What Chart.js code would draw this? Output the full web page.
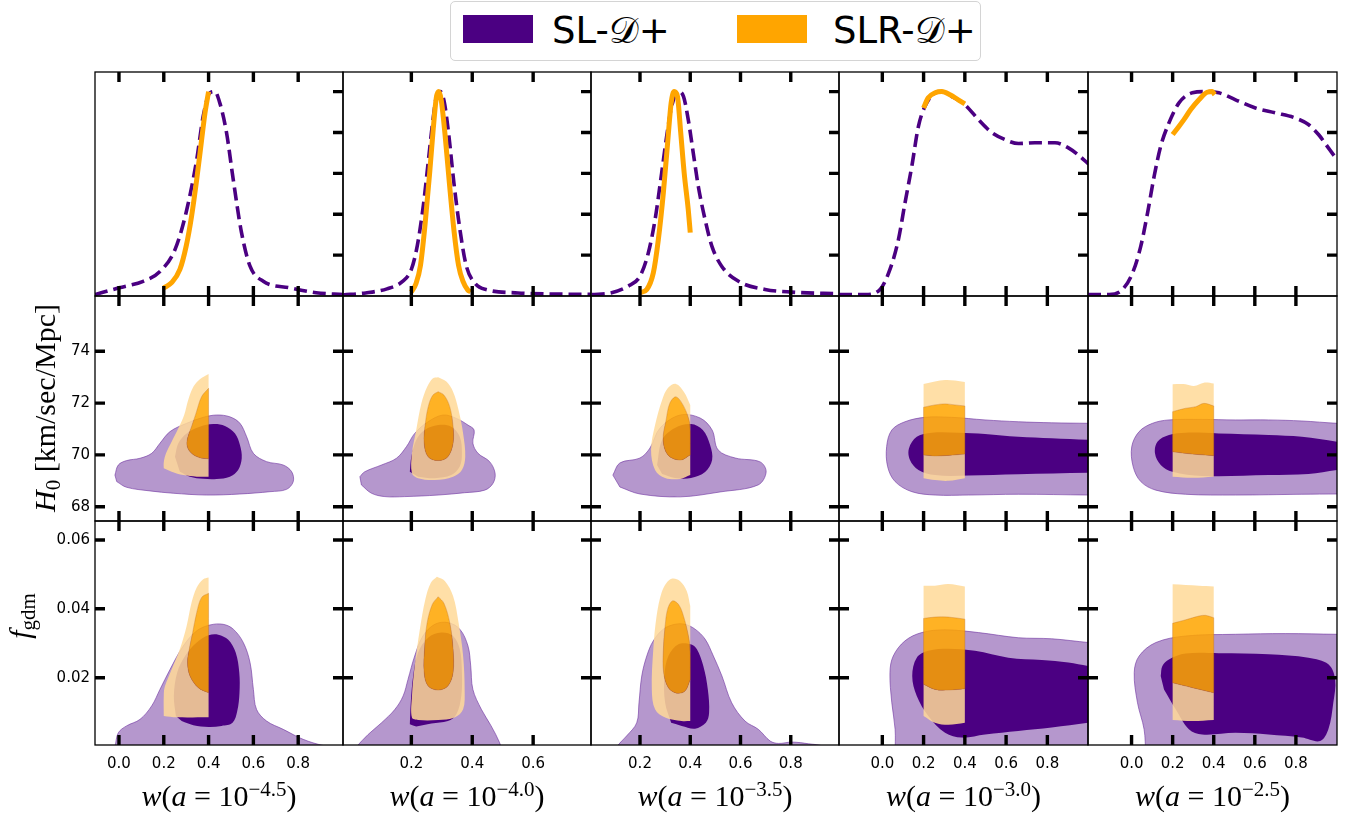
<!DOCTYPE html>
<html>
<head>
<meta charset="utf-8">
<title>w(a) posteriors</title>
<script src="https://cdn.jsdelivr.net/npm/chart.js@4.4.1/dist/chart.umd.min.js"></script>
<style>
  body { margin: 0; background: #fff; }
  #page { position: relative; width: 1356px; height: 823px; overflow: hidden; }
  canvas { position: absolute; }
  #legend { position: absolute; left: 450px; top: 1px; width: 531px; height: 60px; box-sizing: border-box;
            border: 1px solid #d4d4d4; border-radius: 5px; background: #fff;
            font-family: 'DejaVu Sans'; font-size: 37px; }
  .swatch { position: absolute; top: 13px; width: 70px; height: 28px; }
  .entry { position: absolute; top: 10px; line-height: 37px; white-space: nowrap; color: #000; }
  .title { position: absolute; font-family: 'Liberation Serif'; font-size: 30px; line-height: 30px;
           white-space: nowrap; text-align: center; color: #000; }
  .title sup { font-size: 0.7em; position: relative; top: -0.5em; vertical-align: baseline; }
  .title sub { font-size: 0.7em; position: relative; top: 0.25em; vertical-align: baseline; }
  .rot { transform: rotate(-90deg); }
</style>
</head>
<body>
<div id="page">
  <div id="legend">
    <div class="swatch" style="left:12px; background:#4b0082"></div>
    <div class="entry" style="left:101px">SL-<span>𝒟</span>+</div>
    <div class="swatch" style="left:286px; background:#ffa500"></div>
    <div class="entry" style="left:382px">SLR-<span>𝒟</span>+</div>
  </div>
</div>
<script>
// ---------- axes ----------
const wLabels = ['−4.5', '−4.0', '−3.5', '−3.0', '−2.5'];
const wRange = [[-0.107, 1.0], [-0.0245, 0.79], [0.005, 0.992], [-0.21, 0.997], [-0.212, 1.0]];
const wTicks = [[0, 0.2, 0.4, 0.6, 0.8], [0.2, 0.4, 0.6], [0.2, 0.4, 0.6, 0.8],
                [0, 0.2, 0.4, 0.6, 0.8], [0, 0.2, 0.4, 0.6, 0.8]];
const pdfTicks = [0.2, 0.4, 0.6, 0.8, 1.0];
const h0Ticks = [68, 70, 72, 74];
const fgTicks = [0.02, 0.04, 0.06];
const rowRange = [[0, 1.096], [67.448, 76.135], [0.00045, 0.0655]];

// ---------- 1D marginals of w (peak normalised) ----------
const sl1d_45 = [[-0.107,0.007],[0.0,0.04],[0.108,0.072],[0.183,0.12],[0.25,0.227],[0.30,0.41],[0.347,0.667],
  [0.376,0.88],[0.406,0.994],[0.428,1.0],[0.45,0.945],[0.48,0.80],[0.51,0.57],[0.547,0.31],[0.585,0.146],
  [0.644,0.072],[0.763,0.04],[0.88,0.016],[1.0,0.007]];
const slr1d_45 = [[0.2,0.04],[0.235,0.065],[0.272,0.13],[0.30,0.244],[0.324,0.39],[0.347,0.57],[0.369,0.765],
  [0.384,0.896],[0.40,1.0]];
const sl1d_40 = [[-0.0245,0.005],[0.05,0.015],[0.12,0.035],[0.17,0.07],[0.2,0.13],[0.22,0.25],[0.24,0.45],
  [0.255,0.65],[0.27,0.85],[0.283,0.98],[0.295,1.0],[0.308,0.95],[0.322,0.8],[0.34,0.55],[0.36,0.32],
  [0.38,0.15],[0.41,0.06],[0.45,0.03],[0.55,0.015],[0.65,0.01],[0.79,0.008]];
const slr1d_40 = [[0.2,0.02],[0.215,0.06],[0.23,0.15],[0.245,0.35],[0.26,0.6],[0.272,0.82],[0.282,0.97],
  [0.29,1.0],[0.298,0.96],[0.31,0.8],[0.325,0.55],[0.34,0.32],[0.355,0.15],[0.37,0.07],[0.385,0.03],[0.395,0.02]];
const sl1d_35 = [[0.008,0.007],[0.087,0.016],[0.153,0.048],[0.2,0.097],[0.233,0.21],[0.26,0.374],[0.286,0.60],
  [0.306,0.78],[0.326,0.928],[0.353,1.0],[0.373,0.977],[0.392,0.863],[0.412,0.70],[0.432,0.537],[0.459,0.374],
  [0.486,0.244],[0.525,0.146],[0.592,0.072],[0.698,0.032],[0.804,0.019],[0.992,0.011]];
const slr1d_35 = [[0.2,0.016],[0.227,0.032],[0.253,0.113],[0.273,0.276],[0.293,0.505],[0.31,0.75],[0.324,0.945],
  [0.336,1.0],[0.349,0.977],[0.362,0.80],[0.376,0.60],[0.392,0.423],[0.40,0.31]];
const sl1d_30 = [[-0.21,0.007],[-0.084,0.007],[-0.011,0.032],[0.037,0.13],[0.078,0.276],[0.11,0.456],
  [0.143,0.635],[0.175,0.83],[0.207,0.928],[0.256,0.994],[0.288,1.0],[0.336,0.977],[0.40,0.936],[0.466,0.863],
  [0.53,0.80],[0.595,0.765],[0.66,0.746],[0.74,0.75],[0.837,0.75],[0.902,0.725],[0.95,0.69],[1.0,0.645]];
const slr1d_30 = [[0.2,0.92],[0.223,0.97],[0.256,0.994],[0.288,1.0],[0.328,0.985],[0.368,0.96],[0.4,0.94]];
const sl1d_25 = [[-0.212,0.007],[-0.109,0.007],[-0.044,0.032],[0.005,0.113],[0.045,0.244],[0.078,0.407],
  [0.11,0.586],[0.142,0.733],[0.182,0.847],[0.231,0.945],[0.296,0.994],[0.36,1.0],[0.425,0.994],[0.506,0.96],
  [0.603,0.92],[0.70,0.896],[0.797,0.871],[0.861,0.839],[0.91,0.79],[0.958,0.725],[1.0,0.667]];
const slr1d_25 = [[0.2,0.79],[0.223,0.82],[0.255,0.863],[0.288,0.912],[0.328,0.96],[0.368,0.997],[0.393,1.0],
  [0.405,0.985]];

// ---------- 68% / 95% contours, (w, H0) ----------
// a vertex written twice is a sharp corner; SLR contours stop at the prior edges w = 0.2 and 0.4
const slH0Outer_45 = [[-0.018,69.22],[-0.003,69.61],[0.034,69.78],[0.094,69.87],[0.146,70.06],[0.183,70.45],
  [0.228,70.90],[0.302,71.22],[0.376,71.45],[0.436,71.54],[0.495,71.47],[0.54,71.22],[0.57,70.70],[0.60,70.06],
  [0.659,69.74],[0.733,69.61],[0.771,69.35],[0.778,68.97],[0.748,68.67],[0.674,68.58],[0.54,68.49],[0.391,68.45],
  [0.242,68.52],[0.138,68.61],[0.034,68.75],[-0.01,68.97]];
const slH0Inner_45 = [[0.25,69.93],[0.265,70.45],[0.302,70.83],[0.361,71.09],[0.421,71.19],[0.473,71.12],
  [0.518,70.83],[0.54,70.38],[0.548,69.87],[0.532,69.42],[0.495,69.16],[0.436,69.07],[0.376,69.08],[0.317,69.16],
  [0.272,69.35]];
const slrH0Outer_45 = [[0.40,73.12],[0.361,72.92],[0.332,72.63],[0.309,72.12],[0.291,71.54],[0.265,71.03],
  [0.235,70.51],[0.21,70.06],[0.20,69.72],[0.20,69.48],[0.20,69.48],[0.235,69.35],[0.287,69.22],[0.347,69.16],
  [0.40,69.16]];
const slrH0Inner_45 = [[0.40,72.57],[0.369,72.25],[0.344,71.61],[0.324,71.09],[0.306,70.64],[0.305,70.32],
  [0.324,70.06],[0.361,69.89],[0.40,69.85]];

const slH0Outer_40 = [[0.031,69.16],[0.047,69.35],[0.102,69.61],[0.151,69.87],[0.184,70.32],[0.211,70.83],
  [0.255,71.28],[0.304,71.54],[0.348,71.41],[0.386,71.15],[0.406,70.96],[0.402,70.45],[0.419,70.06],[0.457,69.74],
  [0.475,69.29],[0.468,68.90],[0.441,68.64],[0.375,68.54],[0.288,68.45],[0.178,68.39],[0.113,68.39],[0.069,68.52],
  [0.036,68.84]];
const slH0Inner_40 = [[0.195,69.35],[0.20,69.93],[0.216,70.58],[0.244,70.96],[0.288,71.15],[0.331,71.09],
  [0.359,70.70],[0.366,70.06],[0.359,69.55],[0.331,69.22],[0.277,69.10],[0.222,69.16]];
const slrH0Outer_40 = [[0.288,73.0],[0.271,72.96],[0.252,72.63],[0.233,71.99],[0.216,70.96],[0.202,70.06],
  [0.202,69.29],[0.222,69.10],[0.277,69.03],[0.337,69.16],[0.366,69.42],[0.377,69.93],[0.37,70.83],[0.355,71.73],
  [0.337,72.44],[0.315,72.83],[0.288,73.0]];
const slrH0Inner_40 = [[0.288,72.44],[0.271,72.31],[0.257,71.93],[0.246,71.22],[0.242,70.45],[0.255,69.93],
  [0.288,69.78],[0.32,69.93],[0.337,70.45],[0.337,71.09],[0.326,71.86],[0.307,72.31],[0.288,72.44]];

const slH0Outer_35 = [[0.092,69.22],[0.12,69.69],[0.2,69.88],[0.24,70.27],[0.28,71.04],[0.36,71.54],[0.44,71.42],
  [0.487,70.96],[0.511,70.19],[0.579,69.88],[0.678,69.73],[0.702,69.34],[0.67,68.84],[0.519,68.57],[0.36,68.38],
  [0.2,68.49],[0.12,68.76]];
const slH0Inner_35 = [[0.268,69.61],[0.288,70.58],[0.339,71.04],[0.403,71.19],[0.45,70.96],[0.479,70.38],
  [0.487,69.80],[0.459,69.34],[0.403,69.11],[0.339,69.11],[0.288,69.26]];
const slrH0Outer_35 = [[0.40,71.93],[0.375,72.43],[0.343,72.74],[0.311,72.58],[0.288,72.12],[0.26,71.15],
  [0.244,70.19],[0.26,69.42],[0.30,69.11],[0.36,69.07],[0.40,69.22]];
const slrH0Inner_35 = [[0.40,70.88],[0.395,71.35],[0.371,71.93],[0.343,72.24],[0.319,72.0],[0.304,71.35],
  [0.292,70.58],[0.311,70.0],[0.36,69.80],[0.40,70.0]];

const slH0Outer_30 = [[1.05,71.22],[1.0,71.22],[0.821,71.24],[0.659,71.28],[0.498,71.35],[0.336,71.45],
  [0.207,71.45],[0.11,71.28],[0.046,70.96],[0.021,70.32],[0.026,69.54],[0.062,68.97],[0.143,68.58],[0.256,68.45],
  [0.417,68.45],[0.659,68.48],[1.0,68.45],[1.05,68.45]];
const slH0Inner_30 = [[1.05,70.58],[1.0,70.58],[0.821,70.64],[0.659,70.70],[0.498,70.81],[0.368,70.86],
  [0.24,70.86],[0.167,70.70],[0.129,70.25],[0.134,69.80],[0.175,69.42],[0.256,69.22],[0.417,69.20],[0.659,69.25],
  [1.0,69.31],[1.05,69.31]];
const slrH0Outer_30 = [[0.4,72.81],[0.352,72.87],[0.304,72.89],[0.255,72.83],[0.2,72.74],[0.2,72.74],
  [0.2,69.10],[0.2,69.10],[0.255,69.03],[0.32,69.0],[0.4,69.10]];
const slrH0Inner_30 = [[0.4,71.89],[0.352,71.93],[0.304,71.97],[0.255,71.93],[0.2,71.84],[0.2,71.84],
  [0.2,70.0],[0.2,70.0],[0.255,69.96],[0.32,69.98],[0.4,70.03]];

const slH0Outer_25 = [[1.05,71.22],[1.0,71.22],[0.829,71.31],[0.667,71.35],[0.506,71.35],[0.344,71.37],
  [0.182,71.35],[0.102,71.22],[0.037,70.90],[0.001,70.32],[0.008,69.54],[0.045,68.97],[0.118,68.64],[0.263,68.48],
  [0.506,68.45],[0.829,68.48],[1.0,68.49],[1.05,68.49]];
const slH0Inner_25 = [[1.05,70.45],[1.0,70.51],[0.829,70.70],[0.667,70.77],[0.425,70.83],[0.263,70.86],
  [0.182,70.77],[0.126,70.51],[0.114,70.06],[0.142,69.61],[0.199,69.35],[0.344,69.19],[0.667,69.22],[0.861,69.26],
  [1.0,69.42],[1.05,69.45]];
const slrH0Outer_25 = [[0.4,72.76],[0.352,72.79],[0.304,72.66],[0.263,72.73],[0.2,72.73],[0.2,72.73],
  [0.2,69.16],[0.2,69.16],[0.296,69.12],[0.4,69.16]];
const slrH0Inner_25 = [[0.4,71.89],[0.352,71.99],[0.312,71.86],[0.263,71.80],[0.2,71.67],[0.2,71.67],
  [0.2,70.12],[0.2,70.12],[0.296,70.03],[0.4,69.97]];

// ---------- 68% / 95% contours, (w, f_gdm) ----------
const slFgOuter_45 = [[-0.03,-0.002],[-0.018,0.0],[-0.003,0.0040],[0.034,0.0060],[0.094,0.0079],[0.146,0.0118],
  [0.183,0.0166],[0.228,0.0224],[0.287,0.0292],[0.347,0.0336],[0.406,0.0353],[0.465,0.0355],[0.51,0.0341],
  [0.555,0.0302],[0.585,0.0244],[0.60,0.0166],[0.614,0.0108],[0.659,0.0074],[0.733,0.0050],[0.822,0.0021],
  [0.912,0.0003],[0.971,0.0],[1.0,-0.002]];
const slFgInner_45 = [[0.254,0.0089],[0.245,0.0147],[0.26,0.0215],[0.295,0.0263],[0.347,0.0302],[0.40,0.0323],
  [0.443,0.0325],[0.488,0.0310],[0.521,0.0273],[0.537,0.0215],[0.538,0.0156],[0.528,0.0103],[0.507,0.0069],
  [0.458,0.0060],[0.40,0.0057],[0.332,0.0062],[0.28,0.0074]];
const slrFgOuter_45 = [[0.40,0.0491],[0.376,0.0486],[0.347,0.0462],[0.324,0.0418],[0.302,0.0350],[0.272,0.0283],
  [0.235,0.0224],[0.205,0.0175],[0.20,0.0150],[0.20,0.0089],[0.20,0.0089],[0.257,0.0085],[0.40,0.0085]];
const slrFgInner_45 = [[0.40,0.0445],[0.369,0.0433],[0.347,0.0389],[0.329,0.0331],[0.314,0.0283],[0.306,0.0244],
  [0.317,0.0205],[0.354,0.0171],[0.40,0.0156]];

const slFgOuter_40 = [[0.0,-0.002],[0.02,0.0],[0.058,0.0035],[0.102,0.0069],[0.146,0.0108],[0.173,0.0147],
  [0.189,0.0195],[0.211,0.0263],[0.238,0.0321],[0.277,0.0355],[0.32,0.0360],[0.359,0.0341],[0.386,0.0292],
  [0.395,0.0234],[0.402,0.0166],[0.43,0.0108],[0.462,0.0060],[0.49,0.0011],[0.50,-0.002]];
const slFgInner_40 = [[0.195,0.0065],[0.198,0.0127],[0.206,0.0205],[0.222,0.0273],[0.255,0.0316],[0.298,0.0331],
  [0.337,0.0321],[0.359,0.0283],[0.366,0.0215],[0.364,0.0147],[0.348,0.0094],[0.32,0.0074],[0.266,0.0067],
  [0.216,0.0058]];
const slrFgOuter_40 = [[0.284,0.0493],[0.264,0.0476],[0.246,0.0428],[0.228,0.0341],[0.211,0.0234],[0.202,0.0147],
  [0.202,0.0084],[0.222,0.0077],[0.288,0.0077],[0.342,0.0084],[0.37,0.0108],[0.375,0.0166],[0.37,0.0263],
  [0.355,0.0360],[0.337,0.0437],[0.31,0.0481],[0.284,0.0493]];
const slrFgInner_40 = [[0.288,0.0435],[0.269,0.0413],[0.252,0.0360],[0.244,0.0292],[0.242,0.0215],[0.255,0.0176],
  [0.288,0.0164],[0.32,0.0176],[0.337,0.0215],[0.337,0.0283],[0.326,0.0360],[0.307,0.0416],[0.288,0.0435]];

const slFgOuter_35 = [[0.09,-0.002],[0.107,0.0],[0.147,0.0031],[0.187,0.0069],[0.196,0.0127],[0.207,0.0205],
  [0.227,0.0263],[0.253,0.0307],[0.293,0.0341],[0.339,0.0355],[0.379,0.0355],[0.419,0.0341],[0.459,0.0312],
  [0.492,0.0263],[0.526,0.0205],[0.565,0.0127],[0.618,0.0074],[0.671,0.0050],[0.718,0.0016],[0.751,0.0009],
  [0.804,0.0013],[0.871,0.0008],[0.931,0.0],[0.95,-0.002]];
const slFgInner_35 = [[0.324,0.0069],[0.30,0.0127],[0.297,0.0205],[0.313,0.0263],[0.353,0.0297],[0.402,0.0297],
  [0.426,0.0283],[0.452,0.0234],[0.47,0.0166],[0.475,0.0098],[0.462,0.0069],[0.419,0.0052],[0.366,0.0060]];
const slrFgOuter_35 = [[0.40,0.0408],[0.386,0.0452],[0.359,0.0481],[0.329,0.0488],[0.306,0.0476],[0.286,0.0447],
  [0.266,0.0379],[0.253,0.0283],[0.247,0.0166],[0.26,0.0108],[0.30,0.0084],[0.366,0.0074],[0.40,0.0074]];
const slrFgInner_35 = [[0.40,0.0263],[0.395,0.0312],[0.373,0.0379],[0.353,0.0413],[0.329,0.0423],[0.31,0.0399],
  [0.30,0.0350],[0.293,0.0283],[0.294,0.0215],[0.313,0.0171],[0.346,0.0155],[0.379,0.0161],[0.40,0.0195]];

const slFgOuter_30 = [[0.062,-0.002],[0.062,0.0050],[0.046,0.0127],[0.037,0.0215],[0.053,0.0263],[0.11,0.0307],
  [0.191,0.0331],[0.304,0.0339],[0.466,0.0331],[0.659,0.0316],[0.821,0.0313],[1.0,0.0302],[1.05,0.0300],
  [1.05,-0.002]];
const slFgInner_30 = [[1.05,0.0232],[1.0,0.0234],[0.902,0.0244],[0.773,0.0251],[0.611,0.0258],[0.449,0.0278],
  [0.32,0.0284],[0.223,0.0278],[0.167,0.0258],[0.145,0.0205],[0.167,0.0147],[0.223,0.0089],[0.304,0.0040],
  [0.385,0.0026],[0.498,0.0035],[0.659,0.0045],[0.821,0.0055],[1.0,0.0069],[1.05,0.0072]];
const slrFgOuter_30 = [[0.4,0.0465],[0.32,0.0472],[0.255,0.0467],[0.2,0.0467],[0.2,0.0467],[0.2,0.0089],
  [0.2,0.0089],[0.255,0.0069],[0.32,0.0063],[0.4,0.0069]];
const slrFgInner_30 = [[0.4,0.0370],[0.32,0.0376],[0.255,0.0376],[0.2,0.0372],[0.2,0.0372],[0.2,0.0181],
  [0.2,0.0181],[0.255,0.0166],[0.32,0.0164],[0.4,0.0168]];

const slFgOuter_25 = [[0.069,-0.002],[0.061,0.0050],[0.029,0.0127],[0.013,0.0215],[0.037,0.0263],[0.118,0.0302],
  [0.263,0.0321],[0.506,0.0326],[0.748,0.0328],[1.0,0.0326],[1.05,0.0326],[1.05,-0.002]];
const slFgInner_25 = [[0.142,0.0205],[0.15,0.0234],[0.182,0.0253],[0.263,0.0270],[0.425,0.0271],[0.667,0.0268],
  [0.861,0.0258],[0.958,0.0239],[0.991,0.0195],[0.982,0.0127],[0.958,0.0050],[0.918,0.0016],[0.829,0.0026],
  [0.667,0.0035],[0.506,0.0040],[0.344,0.0035],[0.279,0.0050],[0.215,0.0108],[0.158,0.0166]];
const slrFgOuter_25 = [[0.4,0.0465],[0.328,0.0467],[0.263,0.0469],[0.2,0.0471],[0.2,0.0471],[0.2,0.0077],
  [0.2,0.0077],[0.296,0.0074],[0.4,0.0077]];
const slrFgInner_25 = [[0.4,0.0374],[0.36,0.0381],[0.328,0.0379],[0.263,0.0368],[0.2,0.0358],[0.2,0.0358],
  [0.2,0.0185],[0.2,0.0185],[0.296,0.0171],[0.4,0.0156]];

// ---------- drawing ----------
const INDIGO = '#4b0082';
const LILAC = 'rgb(181,151,205)';
const ORANGE = '#ffa500';
const ORANGE_IN = 'rgba(255,165,0,0.86)';
const ORANGE_OUT = 'rgba(255,218,153,0.86)';

const colEdges = [95, 343, 591, 839, 1088, 1337];
const rowEdges = [72, 296, 521, 745];

const toXY = pts => pts.map(([x, y]) => ({x, y}));

// doubled end points keep the closing edge straight under spline tension
function closedShape(pts) {
  const a = pts[0], b = pts[pts.length - 1];
  return toXY([a, ...pts, b, a, a]);
}

// band between two nested contours: outer one way, inner the other way
function ringShape(outer, inner) {
  const rin = inner.slice().reverse();
  const a = outer[0], b = outer[outer.length - 1];
  const c = rin[0], d = rin[rin.length - 1];
  return toXY([a, ...outer, b, c, ...rin, d, a, a]);
}

function contourSets(slOuter, slInner, slrOuter, slrInner) {
  const base = {fill: 'shape', tension: 0.35, pointRadius: 0};
  return [
    {...base, data: closedShape(slrInner), backgroundColor: ORANGE_IN,
      borderColor: 'rgba(190,110,30,0.45)', borderWidth: 0.8, order: 1},
    {...base, data: ringShape(slrOuter, slrInner), backgroundColor: ORANGE_OUT, borderWidth: 0, order: 2},
    {...base, data: closedShape(slInner), backgroundColor: INDIGO, borderWidth: 0, order: 3},
    {...base, data: closedShape(slOuter), backgroundColor: LILAC,
      borderColor: 'rgba(110,50,160,0.6)', borderWidth: 1, order: 4},
  ];
}

function pdfSets(sl, slr) {
  return [
    {data: toXY(slr), borderColor: ORANGE, borderWidth: 5, cubicInterpolationMode: 'monotone',
      fill: false, pointRadius: 0, order: 1},
    {data: toXY(sl), borderColor: INDIGO, borderWidth: 3.6, borderDash: [13, 6], cubicInterpolationMode: 'monotone',
      fill: false, pointRadius: 0, order: 2},
  ];
}

// inward ticks on every side plus the panel frame
const frame = {
  id: 'frame',
  afterDatasetsDraw(chart, args, opts) {
    const {ctx, chartArea: a, scales} = chart;
    const len = 10;
    ctx.save();
    ctx.strokeStyle = '#000';
    ctx.lineWidth = 3.4;
    ctx.beginPath();
    scales.x.ticks.forEach(t => {
      const px = scales.x.getPixelForValue(t.value);
      ctx.moveTo(px, a.top); ctx.lineTo(px, a.top + len);
      ctx.moveTo(px, a.bottom); ctx.lineTo(px, a.bottom - len);
    });
    scales.y.ticks.forEach(t => {
      const py = scales.y.getPixelForValue(t.value);
      if (opts.left) { ctx.moveTo(a.left, py); ctx.lineTo(a.left + len, py); }
      ctx.moveTo(a.right, py); ctx.lineTo(a.right - len, py);
    });
    ctx.stroke();
    ctx.lineWidth = 1.3;
    ctx.strokeRect(a.left, a.top, a.width, a.height);
    ctx.restore();
  }
};

const page = document.getElementById('page');
const rowTicks = [pdfTicks, h0Ticks, fgTicks];
const rowFmt = [v => v.toFixed(1), v => v.toFixed(0), v => v.toFixed(2)];
const tickFont = {family: 'DejaVu Sans', size: 15};

function makePanel(r, c, datasets) {
  const L = colEdges[c], R = colEdges[c + 1], T = rowEdges[r], B = rowEdges[r + 1];
  const yLab = c === 0 && r > 0;
  const xLab = r === 2;
  const padL = yLab ? L : 2;
  const padB = xLab ? 823 - B : 2;
  const cv = document.createElement('canvas');
  cv.width = R - L + padL + 2;
  cv.height = B - T + padB + 2;
  cv.style.left = (L - padL) + 'px';
  cv.style.top = (T - 2) + 'px';
  page.appendChild(cv);

  new Chart(cv, {
    type: 'line',
    data: {datasets},
    options: {
      responsive: false,
      animation: false,
      events: [],
      layout: {autoPadding: false, padding: {left: yLab ? 0 : 2, right: 2, top: 2, bottom: xLab ? 0 : 2}},
      elements: {line: {capBezierPoints: false}},
      plugins: {legend: {display: false}, tooltip: {enabled: false}, frame: {left: r > 0}},
      scales: {
        x: {
          type: 'linear', min: wRange[c][0], max: wRange[c][1],
          grid: {display: false, drawTicks: false}, border: {display: false},
          afterBuildTicks: s => { s.ticks = wTicks[c].map(v => ({value: v})); },
          afterFit: s => { s.height = xLab ? padB : 0; s.paddingLeft = 0; s.paddingRight = 0; },
          ticks: {display: xLab, padding: 10, color: '#000', font: tickFont, autoSkip: false, maxRotation: 0,
                  callback: v => v.toFixed(1)}
        },
        y: {
          type: 'linear', min: rowRange[r][0], max: rowRange[r][1],
          grid: {display: false, drawTicks: false}, border: {display: false},
          afterBuildTicks: s => { s.ticks = rowTicks[r].map(v => ({value: v})); },
          afterFit: s => { s.width = yLab ? padL : 0; s.paddingTop = 0; s.paddingBottom = 0; },
          ticks: {display: yLab, padding: 5, color: '#000', font: tickFont, autoSkip: false,
                  callback: rowFmt[r]}
        }
      }
    },
    plugins: [frame]
  });
}

const pdfSL = [sl1d_45, sl1d_40, sl1d_35, sl1d_30, sl1d_25];
const pdfSLR = [slr1d_45, slr1d_40, slr1d_35, slr1d_30, slr1d_25];
const h0Sets = [
  [slH0Outer_45, slH0Inner_45, slrH0Outer_45, slrH0Inner_45],
  [slH0Outer_40, slH0Inner_40, slrH0Outer_40, slrH0Inner_40],
  [slH0Outer_35, slH0Inner_35, slrH0Outer_35, slrH0Inner_35],
  [slH0Outer_30, slH0Inner_30, slrH0Outer_30, slrH0Inner_30],
  [slH0Outer_25, slH0Inner_25, slrH0Outer_25, slrH0Inner_25]
];
const fgSets = [
  [slFgOuter_45, slFgInner_45, slrFgOuter_45, slrFgInner_45],
  [slFgOuter_40, slFgInner_40, slrFgOuter_40, slrFgInner_40],
  [slFgOuter_35, slFgInner_35, slrFgOuter_35, slrFgInner_35],
  [slFgOuter_30, slFgInner_30, slrFgOuter_30, slrFgInner_30],
  [slFgOuter_25, slFgInner_25, slrFgOuter_25, slrFgInner_25]
];

for (let c = 0; c < 5; c++) {
  makePanel(0, c, pdfSets(pdfSL[c], pdfSLR[c]));
  makePanel(1, c, contourSets(...h0Sets[c]));
  makePanel(2, c, contourSets(...fgSets[c]));
}

// axis titles
function addTitle(html, cx, cy, rotated) {
  const d = document.createElement('div');
  d.className = 'title' + (rotated ? ' rot' : '');
  d.innerHTML = html;
  d.style.width = '300px';
  d.style.height = '30px';
  d.style.left = (cx - 150) + 'px';
  d.style.top = (cy - 15) + 'px';
  page.appendChild(d);
}
wLabels.forEach((lab, c) => {
  const cx = (colEdges[c] + colEdges[c + 1]) / 2;
  addTitle('<i>w</i>(<i>a</i> = 10<sup>' + lab + '</sup>)', cx, 796, false);
});
addTitle('<i>H</i><sub>0</sub> [km/sec/Mpc]', 44.5, 408, true);
addTitle('<i>f</i><sub>gdm</sub>', 20, 616, true);
</script>
</body>
</html>
